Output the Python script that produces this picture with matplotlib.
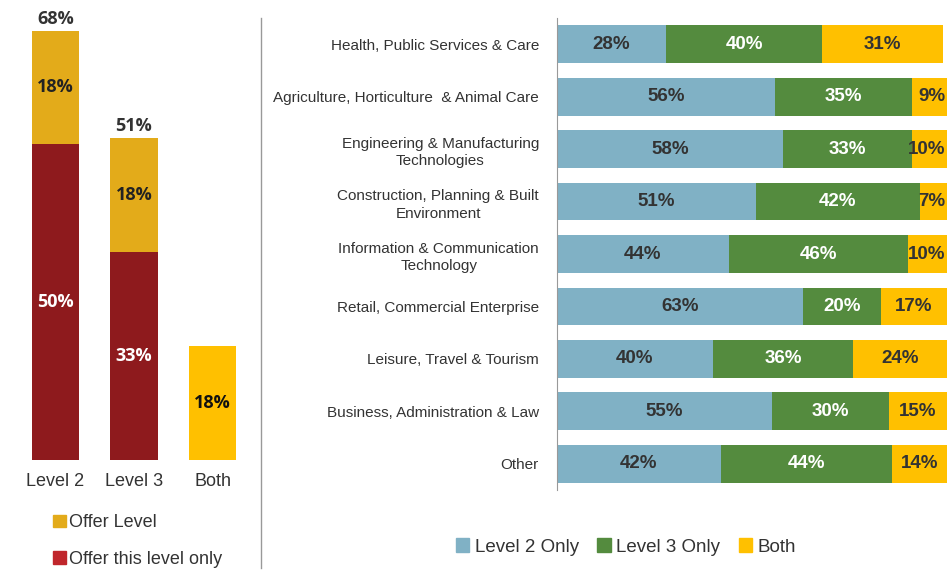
import matplotlib.pyplot as plt
from matplotlib.patches import Patch

plt.rcParams['font.family'] = ['Liberation Sans', 'DejaVu Sans']

# left chart data
left_cats = ['Level 2', 'Level 3', 'Both']
only_vals = [50, 33, 0]
offer_vals = [18, 18, 0]
both_vals = [0, 0, 18]
totals = [68, 51]

# right chart data
sectors = ['Health, Public Services & Care',
           'Agriculture, Horticulture  & Animal Care',
           'Engineering & Manufacturing\nTechnologies',
           'Construction, Planning & Built\nEnvironment',
           'Information & Communication\nTechnology',
           'Retail, Commercial Enterprise',
           'Leisure, Travel & Tourism',
           'Business, Administration & Law',
           'Other']
l2_only = [28, 56, 58, 51, 44, 63, 40, 55, 42]
l3_only = [40, 35, 33, 42, 46, 20, 36, 30, 44]
both_r = [31, 9, 10, 7, 10, 17, 24, 15, 14]

W, H = 947, 572
fig = plt.figure(figsize=(W / 100, H / 100), dpi=100)

def px_axes(x0, y0, x1, y1):
    # pixel box (top-left origin) -> figure fraction
    return fig.add_axes([x0 / W, 1 - y1 / H, (x1 - x0) / W, (y1 - y0) / H])

RED = '#8E1A1D'
GOLD = '#E3AB1A'
YEL = '#FFC000'
BLUE = '#80B1C5'
GREEN = '#548B3E'

# ---- left chart
ax1 = px_axes(16, 18, 252, 460)
x = range(len(left_cats))
ax1.bar(x, only_vals, width=0.6, color=RED)
ax1.bar(x, offer_vals, width=0.6, bottom=only_vals, color=GOLD)
ax1.bar(x, both_vals, width=0.6, color=YEL)
ax1.set_xlim(-0.5, 2.5)
ax1.set_ylim(0, 70)
vfont = dict(fontsize=13, fontweight='bold', family='Open Sans')
for i in range(2):
    ax1.text(i, only_vals[i] / 2, f'{only_vals[i]}%', ha='center', va='center',
             color='white', **vfont)
    ax1.text(i, only_vals[i] + offer_vals[i] / 2, f'{offer_vals[i]}%', ha='center',
             va='center', color='#222222', **vfont)
    ax1.text(i, totals[i] + 0.4, f'{totals[i]}%', ha='center', va='bottom',
             color='#333333', **vfont)
ax1.text(2, both_vals[2] / 2, f'{both_vals[2]}%', ha='center', va='center',
         color='#111111', **vfont)
ax1.set_xticks(list(x))
ax1.set_xticklabels(left_cats, fontsize=13, color='#333333')
ax1.tick_params(axis='x', length=0, pad=9)
ax1.set_yticks([])
for s in ax1.spines.values():
    s.set_visible(False)

leg1 = fig.legend(handles=[Patch(color=GOLD, label='Offer Level'),
                           Patch(color='#C0262C', label='Offer this level only')],
                  loc='upper left', bbox_to_anchor=(46 / W, 1 - 507 / H),
                  frameon=False, fontsize=13, handlelength=0.7, handleheight=0.7,
                  handletextpad=0.2, labelspacing=1.1, borderaxespad=0)
for t in leg1.get_texts():
    t.set_color('#333333')

# separator line
fig.add_artist(plt.Line2D([261 / W, 261 / W], [1 - 18 / H, 1 - 568 / H],
                          color='#999999', lw=1))

# ---- right chart
ax2 = px_axes(557, 18, 947, 490)
y = range(len(sectors))
left2 = [a + b for a, b in zip(l2_only, l3_only)]
ax2.barh(y, l2_only, height=0.72, color=BLUE)
ax2.barh(y, l3_only, height=0.72, left=l2_only, color=GREEN)
ax2.barh(y, both_r, height=0.72, left=left2, color=YEL)
ax2.set_xlim(0, 100)
ax2.set_ylim(8.5, -0.5)
for i in y:
    ax2.text(l2_only[i] / 2, i, f'{l2_only[i]}%', ha='center', va='center',
             color='#333333', fontsize=13.5, fontweight='bold')
    ax2.text(l2_only[i] + l3_only[i] / 2, i, f'{l3_only[i]}%', ha='center',
             va='center', color='white', fontsize=13.5, fontweight='bold')
    # narrow segments: keep the label inside the right edge
    if both_r[i] <= 10:
        ax2.text(99.6, i, f'{both_r[i]}%', ha='right', va='center',
                 color='#333333', fontsize=13.5, fontweight='bold')
    else:
        ax2.text(left2[i] + both_r[i] / 2, i, f'{both_r[i]}%', ha='center',
                 va='center', color='#333333', fontsize=13.5, fontweight='bold')
ax2.set_yticks(list(y))
ax2.set_yticklabels(sectors, fontsize=11, color='#333333', multialignment='center',
                    linespacing=1.35)
ax2.tick_params(axis='y', length=0, pad=13)
ax2.set_xticks([])
for s in ['top', 'right', 'bottom']:
    ax2.spines[s].set_visible(False)
ax2.spines['left'].set_color('#999999')

fig.legend(handles=[Patch(color=BLUE, label='Level 2 Only'),
                    Patch(color=GREEN, label='Level 3 Only'),
                    Patch(color=YEL, label='Both')],
           loc='center', bbox_to_anchor=(626 / W, 1 - 547 / H), ncol=3,
           frameon=False, fontsize=13.5, handlelength=0.7, handleheight=0.7,
           handletextpad=0.3, columnspacing=1.0, labelcolor='#333333')

fig.savefig('out.png', dpi=100)
